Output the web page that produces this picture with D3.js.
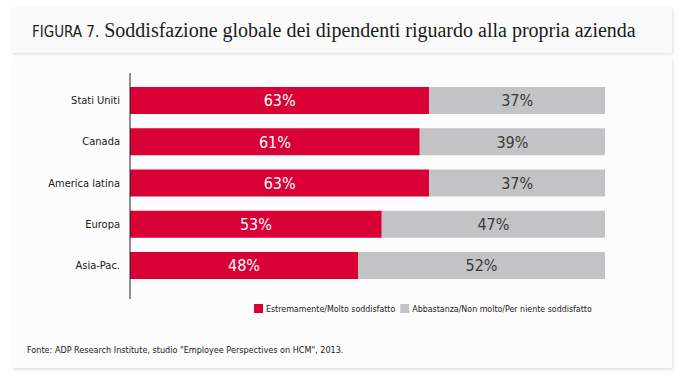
<!DOCTYPE html>
<html>
<head>
<meta charset="utf-8">
<script src="https://cdn.jsdelivr.net/npm/d3@7"></script>
<style>
  body { margin: 0; background: #fff; }
  svg { display: block; }
</style>
</head>
<body>
<div id="chart"></div>
<script>
// data
const categories = ['Stati Uniti', 'Canada', 'America latina', 'Europa', 'Asia-Pac.'];
const satisfied = [63, 61, 63, 53, 48];
const notSatisfied = [37, 39, 37, 47, 52];
const seriesNames = ['Estremamente/Molto soddisfatto', 'Abbastanza/Non molto/Per niente soddisfatto'];
const seriesColors = ['#d90036', '#c2c3c5'];
const titleLabel = 'FIGURA 7.';
const titleText = 'Soddisfazione globale dei dipendenti riguardo alla propria azienda';
const sourceText = 'Fonte: ADP Research Institute, studio "Employee Perspectives on HCM", 2013.';

const width = 684;
const height = 376;
const narrow = '"DejaVu Sans Condensed", "DejaVu Sans", sans-serif';

const svg = d3.select('#chart').append('svg')
  .attr('width', width)
  .attr('height', height);

const defs = svg.append('defs');
const shadow = defs.append('filter').attr('id', 'shadow')
  .attr('x', '-5%').attr('y', '-5%').attr('width', '110%').attr('height', '115%');
shadow.append('feDropShadow')
  .attr('dx', 1).attr('dy', 1.5).attr('stdDeviation', 1.5)
  .attr('flood-color', '#000').attr('flood-opacity', 0.13);

// boxes
svg.append('rect').attr('x', 12).attr('y', 7).attr('width', 660).attr('height', 46)
  .attr('fill', '#fafafa').attr('filter', 'url(#shadow)');
svg.append('rect').attr('x', 12).attr('y', 58).attr('width', 660).attr('height', 310)
  .attr('fill', '#fcfcfc').attr('filter', 'url(#shadow)');

// title
const title = svg.append('text').attr('x', 32).attr('y', 37).attr('fill', '#1a1a1a');
title.append('tspan')
  .style('font-family', narrow)
  .style('font-size', '15px')
  .text(titleLabel);
title.append('tspan')
  .attr('dx', 5)
  .style('font-family', '"Liberation Serif", "DejaVu Serif", serif')
  .style('font-size', '20px')
  .text(titleText);

// scales
const x = d3.scaleLinear().domain([0, 100]).range([130, 605]);
const y = d3.scaleBand().domain(categories).range([87, 279]).paddingInner(0.345).paddingOuter(0);

const rows = categories.map((c, i) => ({ cat: c, a: satisfied[i], b: notSatisfied[i] }));

const g = svg.append('g');

g.selectAll('.bar-a')
  .data(rows)
  .enter()
  .append('rect')
  .attr('class', 'bar-a')
  .attr('x', x(0))
  .attr('y', (d) => y(d.cat))
  .attr('width', (d) => x(d.a) - x(0))
  .attr('height', y.bandwidth())
  .attr('fill', seriesColors[0]);

g.selectAll('.bar-b')
  .data(rows)
  .enter()
  .append('rect')
  .attr('class', 'bar-b')
  .attr('x', (d) => x(d.a))
  .attr('y', (d) => y(d.cat))
  .attr('width', (d) => x(d.a + d.b) - x(d.a))
  .attr('height', y.bandwidth())
  .attr('fill', seriesColors[1]);

g.selectAll('.label-a')
  .data(rows)
  .enter()
  .append('text')
  .attr('class', 'label-a')
  .attr('x', (d) => (x(0) + x(d.a)) / 2)
  .attr('y', (d) => y(d.cat) + y.bandwidth() / 2)
  .attr('dy', '.36em')
  .attr('text-anchor', 'middle')
  .attr('fill', '#fff')
  .style('font-family', narrow)
  .style('font-size', '16px')
  .text((d) => d.a + '%');

g.selectAll('.label-b')
  .data(rows)
  .enter()
  .append('text')
  .attr('class', 'label-b')
  .attr('x', (d) => (x(d.a) + x(d.a + d.b)) / 2)
  .attr('y', (d) => y(d.cat) + y.bandwidth() / 2)
  .attr('dy', '.36em')
  .attr('text-anchor', 'middle')
  .attr('fill', '#3a3a3a')
  .style('font-family', narrow)
  .style('font-size', '16px')
  .text((d) => d.b + '%');

// category axis
const axis = svg.append('g')
  .attr('transform', `translate(${x(0)},0)`)
  .call(d3.axisLeft(y).tickSize(0).tickPadding(10));
axis.select('.domain')
  .attr('d', `M0,${y.range()[0] - 14}V${y.range()[1] + 20}`)
  .attr('stroke', '#222');
axis.selectAll('text')
  .attr('fill', '#1a1a1a')
  .style('font-family', narrow)
  .style('font-size', '11px');

// legend
const legend = svg.append('g').attr('transform', 'translate(254,304)');
let lx = 0;
seriesNames.forEach((name, i) => {
  const item = legend.append('g').attr('transform', `translate(${lx},0)`);
  item.append('rect').attr('width', 9).attr('height', 9).attr('fill', seriesColors[i]);
  const t = item.append('text')
    .attr('x', 12).attr('y', 8)
    .attr('fill', '#1a1a1a')
    .style('font-family', narrow)
    .style('font-size', '8.8px')
    .text(name);
  lx += 12 + t.node().getComputedTextLength() + 5;
});

// source
svg.append('text')
  .attr('x', 27).attr('y', 353)
  .attr('fill', '#1a1a1a')
  .style('font-family', narrow)
  .style('font-size', '9px')
  .text(sourceText);
</script>
</body>
</html>
